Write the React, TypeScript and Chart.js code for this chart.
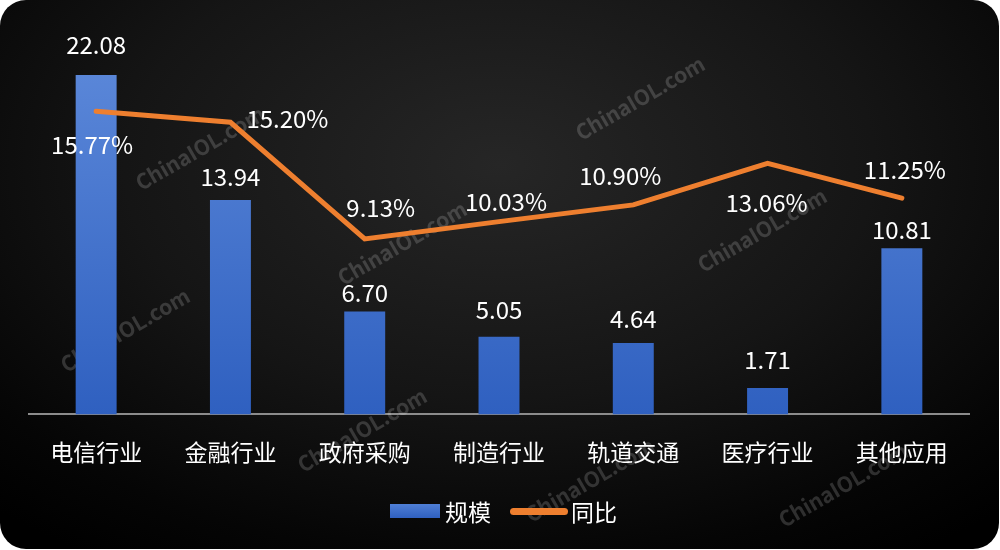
import React, { useEffect, useRef } from "react";
import { Chart, registerables } from "chart.js";

Chart.register(...registerables);

const categories = ["电信行业", "金融行业", "政府采购", "制造行业", "轨道交通", "医疗行业", "其他应用"];
const scaleValues = [22.08, 13.94, 6.7, 5.05, 4.64, 1.71, 10.81];
const yoyValues = [15.77, 15.2, 9.13, 10.03, 10.9, 13.06, 11.25];
const scaleLabel = "规模";
const yoyLabel = "同比";
const watermarkText = "ChinaIOL.com";

// label offsets (style only)
const barLabelDy = [-30, -23, -19, -27, -24, -28, -18];
const lineLabelOffsets: [number, number][] = [
  [-4, 34],
  [57, -3],
  [16, -31],
  [7, -20],
  [-13, -29],
  [-1, 39],
  [3, -28],
];
const watermarkSpots: [number, number][] = [
  [640, 98],
  [200, 148],
  [402, 243],
  [125, 330],
  [762, 230],
  [362, 430],
  [590, 480],
  [843, 485],
];

const FONT = '"Noto Sans CJK SC", "Noto Sans", sans-serif';

const watermarkPlugin = {
  id: "watermark",
  beforeDatasetsDraw(chart: any) {
    const ctx = chart.ctx;
    ctx.save();
    ctx.font = `bold 21px ${FONT}`;
    ctx.fillStyle = "rgba(255,255,255,0.17)";
    ctx.textAlign = "center";
    ctx.textBaseline = "middle";
    watermarkSpots.forEach(([x, y]) => {
      ctx.save();
      ctx.translate(x, y);
      ctx.rotate((-30 * Math.PI) / 180);
      ctx.fillText(watermarkText, 0, 0);
      ctx.restore();
    });
    ctx.restore();
  },
};

const labelPlugin = {
  id: "valueLabels",
  afterDatasetsDraw(chart: any) {
    const ctx = chart.ctx;
    ctx.save();
    ctx.font = `24px ${FONT}`;
    ctx.fillStyle = "#ffffff";
    ctx.textAlign = "center";
    ctx.textBaseline = "middle";
    const barMeta = chart.getDatasetMeta(0);
    barMeta.data.forEach((el: any, i: number) => {
      ctx.fillText(scaleValues[i].toFixed(2), el.x, el.y + barLabelDy[i]);
    });
    const lineMeta = chart.getDatasetMeta(1);
    lineMeta.data.forEach((el: any, i: number) => {
      const [dx, dy] = lineLabelOffsets[i];
      ctx.fillText(yoyValues[i].toFixed(2) + "%", el.x + dx, el.y + dy);
    });
    ctx.restore();
  },
};

export default function App() {
  const canvasRef = useRef<HTMLCanvasElement | null>(null);

  useEffect(() => {
    if (!canvasRef.current) return;
    const chart = new Chart(canvasRef.current, {
      type: "bar",
      data: {
        labels: categories,
        datasets: [
          {
            type: "bar",
            label: scaleLabel,
            data: scaleValues,
            yAxisID: "y",
            backgroundColor: (c: any) => {
              const area = c.chart.chartArea;
              if (!area) return "#4472c4";
              const g = c.chart.ctx.createLinearGradient(0, area.top, 0, area.bottom);
              g.addColorStop(0, "#5f8bdb");
              g.addColorStop(1, "#2f60c0");
              return g;
            },
            borderWidth: 0,
            categoryPercentage: 1,
            barPercentage: 0.305,
            order: 2,
          },
          {
            type: "line",
            label: yoyLabel,
            data: yoyValues,
            yAxisID: "y2",
            borderColor: "#ee7f2f",
            backgroundColor: "#ee7f2f",
            borderWidth: 5,
            pointRadius: 0,
            borderCapStyle: "round",
            borderJoinStyle: "miter",
            tension: 0,
            order: 1,
          },
        ],
      } as any,
      plugins: [watermarkPlugin, labelPlugin],
      options: {
        responsive: false,
        animation: false,
        layout: { padding: { top: 30, left: 29, right: 31, bottom: 68 } },
        plugins: {
          legend: { display: false },
          tooltip: { enabled: false },
        },
        scales: {
          x: {
            grid: { display: false },
            border: { display: true, color: "#8c8c8c", width: 2 },
            ticks: {
              color: "#ffffff",
              font: { family: FONT, size: 23 },
              padding: 16,
              maxRotation: 0,
            },
          },
          y: {
            display: false,
            min: 0,
            max: 25,
            grid: { display: false },
          },
          y2: {
            display: false,
            position: "right",
            min: 0,
            max: 20,
            grid: { display: false },
          },
        },
      } as any,
    });
    return () => chart.destroy();
  }, []);

  return (
    <div
      style={{
        position: "fixed",
        left: 0,
        top: 0,
        width: 999,
        height: 549,
        borderRadius: 26,
        overflow: "hidden",
        background:
          "radial-gradient(ellipse 75% 85% at 50% 30%, #262626 0%, #151515 50%, #050505 85%, #000000 100%)",
      }}
    >
      <canvas ref={canvasRef} width={1000} height={550} style={{ position: "absolute", left: 0, top: 0 }} />
      <div
        style={{
          position: "absolute",
          left: 0,
          right: 0,
          top: 494,
          display: "flex",
          justifyContent: "center",
          alignItems: "center",
          paddingLeft: 8,
          fontFamily: FONT,
          fontSize: 23,
          color: "#ffffff",
          lineHeight: "34px",
        }}
      >
        <span
          style={{
            display: "inline-block",
            width: 50,
            height: 14,
            background: "linear-gradient(#4f7fd6, #2f60c0)",
            marginRight: 5,
          }}
        />
        <span>{scaleLabel}</span>
        <span
          style={{
            display: "inline-block",
            width: 58,
            height: 7,
            borderRadius: 4,
            background: "#ee7f2f",
            marginLeft: 19,
            marginRight: 3,
          }}
        />
        <span>{yoyLabel}</span>
      </div>
    </div>
  );
}
